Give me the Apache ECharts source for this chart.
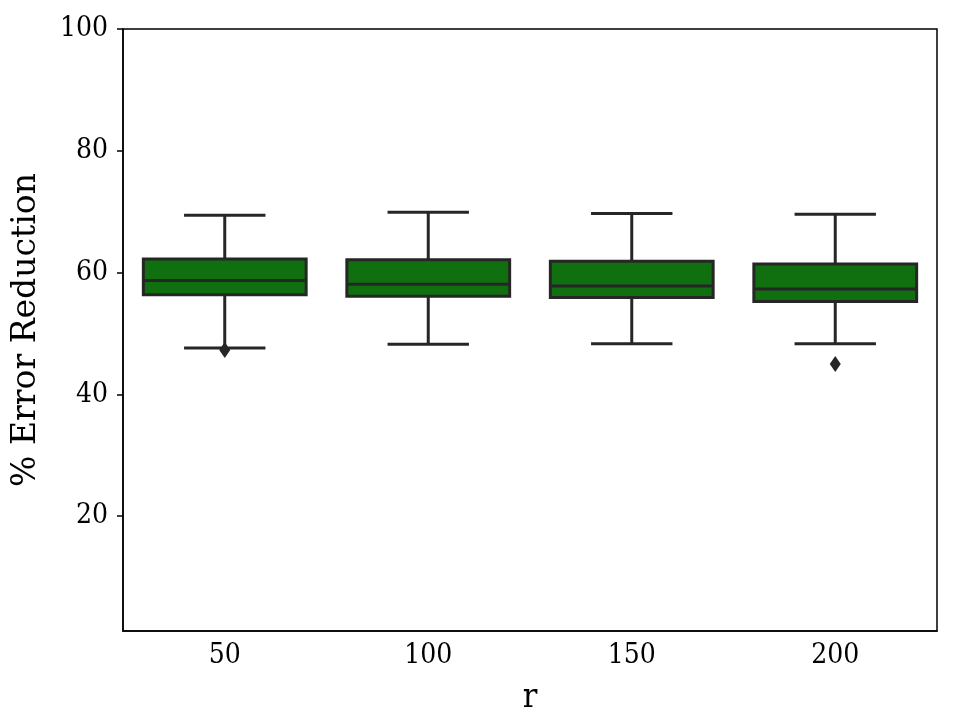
<!DOCTYPE html>
<html>
<head>
<meta charset="utf-8">
</head>
<body style="margin:0">
<div style="width: 960px;height: 720px;" id="chart"></div>
<script src="https://cdn.jsdelivr.net/npm/echarts@6/dist/echarts.min.js"></script>
<script>

// box stats
const categories = ['50', '100', '150', '200'];
const whiskerLow = [47.6, 48.25, 48.3, 48.3];
const q1 = [56.35, 56.1, 55.9, 55.25];
const median = [58.7, 58.1, 57.8, 57.3];
const q3 = [62.25, 62.1, 61.85, 61.4];
const whiskerHigh = [69.4, 69.9, 69.7, 69.6];
const outliers = [[0, 47.3], [3, 45.0]];
const yTicks = [20, 40, 60, 80, 100];

let chart = echarts.init(document.getElementById('chart'));

let boxData = categories.map((c, i) => [i, whiskerLow[i], q1[i], median[i], q3[i], whiskerHigh[i]]);

const edge = '#262626';
const font = '"DejaVu Serif Condensed", "DejaVu Serif", serif';
const font2 = '"DejaVu Serif", serif';

let option = {
    animation: false,
    grid: {left: 123, right: 23, top: 29, bottom: 88, show: true, borderColor: '#000', borderWidth: 1.5, backgroundColor: 'transparent'},
    xAxis: {
        type: 'category',
        data: categories,
        name: 'r',
        nameLocation: 'middle',
        nameGap: 50,
        nameTextStyle: {fontFamily: font, fontSize: 34, color: '#000'},
        axisLine: {lineStyle: {color: '#000', width: 1.5}},
        axisTick: {alignWithLabel: true, length: 6, lineStyle: {color: '#000', width: 1.5}},
        axisLabel: {fontFamily: font, fontSize: 28, color: '#000', margin: 11},
        splitLine: {show: false}
    },
    yAxis: {
        type: 'value',
        min: 1.15,
        max: 100,
        name: '% Error Reduction',
        nameLocation: 'middle',
        nameGap: 80,
        nameTextStyle: {fontFamily: font2, fontSize: 33, color: '#000'},
        axisLine: {show: true, lineStyle: {color: '#000', width: 1.5}},
        axisTick: {show: true, length: 6, customValues: yTicks, lineStyle: {color: '#000', width: 1.5}},
        axisLabel: {fontFamily: font, fontSize: 28, color: '#000', margin: 15, customValues: yTicks},
        splitLine: {show: false}
    },
    series: [{
        type: 'custom',
        data: boxData,
        encode: {x: 0, y: [1, 2, 3, 4, 5]},
        renderItem: (params, api) => {
            let idx = api.value(0);
            let band = api.size([1, 0])[0];
            let bw = band * 0.8, cw = bw * 0.5;
            let lo = api.coord([idx, api.value(1)]);
            let b1 = api.coord([idx, api.value(2)]);
            let md = api.coord([idx, api.value(3)]);
            let b3 = api.coord([idx, api.value(4)]);
            let hi = api.coord([idx, api.value(5)]);
            let x = lo[0];
            let ls = {stroke: edge, lineWidth: 3, fill: null};
            return {
                type: 'group',
                children: [
                    {type: 'line', shape: {x1: x, y1: hi[1], x2: x, y2: b3[1]}, style: ls},
                    {type: 'line', shape: {x1: x, y1: b1[1], x2: x, y2: lo[1]}, style: ls},
                    {type: 'line', shape: {x1: x - cw / 2, y1: hi[1], x2: x + cw / 2, y2: hi[1]}, style: ls},
                    {type: 'line', shape: {x1: x - cw / 2, y1: lo[1], x2: x + cw / 2, y2: lo[1]}, style: ls},
                    {type: 'rect', shape: {x: x - bw / 2, y: b3[1], width: bw, height: b1[1] - b3[1]},
                        style: {fill: '#107010', stroke: edge, lineWidth: 3}},
                    {type: 'line', shape: {x1: x - bw / 2, y1: md[1], x2: x + bw / 2, y2: md[1]}, style: ls}
                ]
            };
        }
    }, {
        type: 'scatter',
        data: outliers,
        symbol: 'diamond',
        symbolSize: [11, 16],
        itemStyle: {color: edge, opacity: 1},
        z: 5
    }]
};

chart.setOption(option);

</script>
</body>
</html>
